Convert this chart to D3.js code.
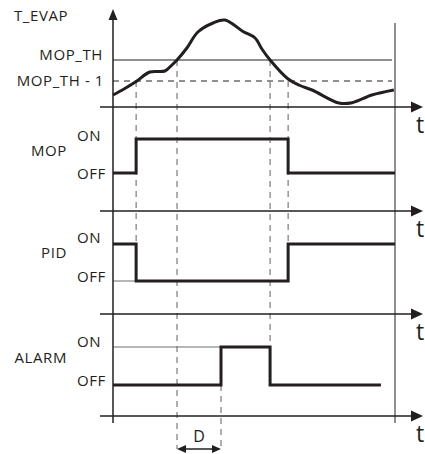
<!DOCTYPE html>
<html><head><meta charset="utf-8">
<script src="https://cdn.jsdelivr.net/npm/d3@7"></script>
<style>body{margin:0;background:#fff}svg{display:block}text{font-family:"Open Sans",sans-serif;fill:#231f20}</style>
</head><body>
<svg id="c" width="425" height="454"></svg>
<script>
// ---- data ----
const curveTime = [0, 3.9, 8.2, 13.1, 18.4, 20.9, 22.7, 26.2, 30.1, 35.5, 39.7, 46.1, 50.4, 52.8, 55.7, 62.1, 66.3, 70.6, 80.1, 84.8, 91.8, 99.6];
const curveTemp = [12, 18, 25.5, 35, 36, 42, 47, 59, 75, 84, 87, 75.5, 69, 58, 47, 28, 21.5, 17, 4, 4.3, 12, 17];
const thresholds = [47, 26];              // MOP_TH, MOP_TH - 1
const thresholdLabels = ["MOP_TH", "MOP_TH - 1"];
const events = [8.2, 22.7, 38.3, 55.7, 62.1]; // t1..t5
const signalNames = ["MOP", "PID", "ALARM"];
const stateLabels = ["ON", "OFF"];
const mopTimes = [0, 8.2, 62.1, 100];  const mopStates = [0, 1, 0, 0];
const pidTimes = [0, 8.2, 62.1, 100];  const pidStates = [1, 0, 1, 1];
const alarmTimes = [0, 38.3, 55.7, 95]; const alarmStates = [0, 1, 0, 0];
const yTitle = "T_EVAP", xTitle = "t", delayLabel = "D";

// ---- layout ----
const svg = d3.select("#c");
const x = d3.scaleLinear().domain([0, 100]).range([113, 395]);
const yT = d3.scaleLinear().domain([0, 97]).range([107, 10]);
const panels = [
  {axis: 211, on: 139, off: 173, onLab: 141, offLab: 179, nameLab: 156, times: mopTimes, states: mopStates},
  {axis: 314, on: 244, off: 281, onLab: 243, offLab: 282, nameLab: 258, times: pidTimes, states: pidStates},
  {axis: 416, on: 347, off: 385, onLab: 347, offLab: 386, nameLab: 363, times: alarmTimes, states: alarmStates}
];
const ink = "#231f20", grey = "#6d6e71";
const axisYs = [yT(0)].concat(panels.map(p => p.axis));
const fs = 15, ls = 0.6;
const txt = (xx, yy, s, anchor) => svg.append("text").attr("x", xx).attr("y", yy)
  .attr("text-anchor", anchor || "start").attr("font-size", fs).attr("letter-spacing", ls).text(s);

// threshold lines
svg.append("line").attr("x1", x(0)).attr("x2", 392).attr("y1", yT(thresholds[0])).attr("y2", yT(thresholds[0]))
  .attr("stroke", ink).attr("stroke-width", 1);
svg.append("line").attr("x1", x(0)).attr("x2", 392).attr("y1", yT(thresholds[1])).attr("y2", yT(thresholds[1]))
  .attr("stroke", ink).attr("stroke-width", 1).attr("stroke-dasharray", "6,5");
txt(103, 60, thresholdLabels[0], "end");
txt(104, 86, thresholdLabels[1], "end");

// dashed event verticals
const dv = (t, y1, y2) => svg.append("line").attr("x1", x(t)).attr("x2", x(t)).attr("y1", y1).attr("y2", y2)
  .attr("stroke", grey).attr("stroke-width", 1.1).attr("stroke-dasharray", "6,5");
dv(events[0], yT(thresholds[1]), panels[1].off);
dv(events[1], yT(thresholds[0]), 449);
dv(events[2], panels[2].off, 449);
dv(events[3], yT(thresholds[0]), panels[2].on);
dv(events[4], yT(thresholds[1]), panels[1].on);

// thin reference lines
svg.append("line").attr("x1", x(0)).attr("x2", x(events[0])).attr("y1", panels[1].off).attr("y2", panels[1].off)
  .attr("stroke", grey).attr("stroke-width", 1);
svg.append("line").attr("x1", x(0)).attr("x2", x(events[2])).attr("y1", panels[2].on).attr("y2", panels[2].on)
  .attr("stroke", grey).attr("stroke-width", 1);

// right boundary
svg.append("line").attr("x1", 395).attr("x2", 395).attr("y1", 23).attr("y2", 423).attr("stroke", ink).attr("stroke-width", 1);

// horizontal axes with arrows
axisYs.forEach(ay => {
  svg.append("line").attr("x1", 100).attr("x2", 414).attr("y1", ay).attr("y2", ay).attr("stroke", ink).attr("stroke-width", 1.5);
  svg.append("path").attr("d", `M423,${ay} L411,${ay - 5.5} L411,${ay + 5.5} Z`).attr("fill", ink);
  svg.append("text").attr("x", 416).attr("y", ay + 26).attr("font-size", 23).text(xTitle);
});

// vertical axis
svg.append("line").attr("x1", 113).attr("x2", 113).attr("y1", 18).attr("y2", 423).attr("stroke", ink).attr("stroke-width", 1.5);
svg.append("path").attr("d", "M113,9 L108.5,20 L117.5,20 Z").attr("fill", ink);
txt(14, 21, yTitle);

// temperature curve
const pts = curveTime.map((t, i) => [x(t), yT(curveTemp[i])]);
svg.append("path").attr("d", d3.line().curve(d3.curveCatmullRom.alpha(0.5))(pts))
  .attr("fill", "none").attr("stroke", ink).attr("stroke-width", 3).attr("stroke-linejoin", "round");

// signals
panels.forEach((p, i) => {
  const ys = d3.scaleOrdinal().domain([0, 1]).range([p.off, p.on]);
  const line = d3.line().curve(d3.curveStepAfter).x(d => x(d[0])).y(d => ys(d[1]));
  svg.append("path").attr("d", line(p.times.map((t, k) => [t, p.states[k]])))
    .attr("fill", "none").attr("stroke", ink).attr("stroke-width", 3).attr("stroke-linejoin", "miter");
  txt(77, p.onLab, stateLabels[0]);
  txt(77, p.offLab, stateLabels[1]);
  txt(67, p.nameLab, signalNames[i], "end");
});

// delay arrow
const ya = 449, xa = x(events[1]), xb = x(events[2]);
svg.append("line").attr("x1", xa + 6).attr("x2", xb - 6).attr("y1", ya).attr("y2", ya).attr("stroke", ink).attr("stroke-width", 1.5);
svg.append("path").attr("d", `M${xa},${ya} L${xa + 9},${ya - 4} L${xa + 9},${ya + 4} Z`).attr("fill", ink);
svg.append("path").attr("d", `M${xb},${ya} L${xb - 9},${ya - 4} L${xb - 9},${ya + 4} Z`).attr("fill", ink);
svg.append("text").attr("x", (xa + xb) / 2).attr("y", 442).attr("text-anchor", "middle").attr("font-size", 16).text(delayLabel);
</script>
</body></html>
